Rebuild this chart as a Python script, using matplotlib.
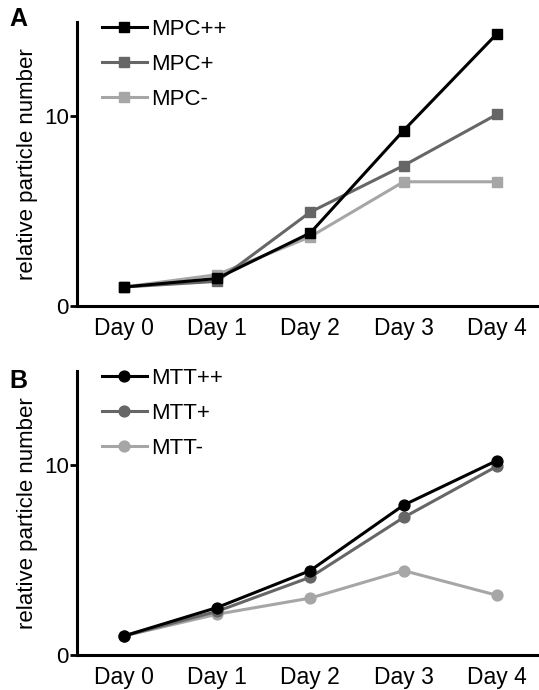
import matplotlib
matplotlib.use("Agg")
import matplotlib.pyplot as plt
from matplotlib.lines import Line2D

plt.rcParams['font.family'] = ['Liberation Sans', 'DejaVu Sans']

days = ["Day 0", "Day 1", "Day 2", "Day 3", "Day 4"]

mpc_pp = [1.0, 1.45, 3.85, 9.25, 14.35]
mpc_p = [1.0, 1.3, 4.95, 7.4, 10.1]
mpc_m = [1.0, 1.65, 3.65, 6.55, 6.55]

mtt_pp = [1.0, 2.5, 4.45, 7.9, 10.25]
mtt_p = [1.0, 2.3, 4.1, 7.25, 9.95]
mtt_m = [1.0, 2.15, 3.0, 4.45, 3.15]

colors = ["#000000", "#666666", "#a6a6a6"]

W, H = 539, 690
fig = plt.figure(figsize=(W / 100, H / 100), dpi=100)

FS = 16

def make_ax(bottom_px, marker, series, labels, letter, letter_y):
    left = 77 / W
    width = 466.5 / W
    height = 284.5 / H
    bottom = 1 - bottom_px / H
    ax = fig.add_axes([left, bottom, width, height])
    x = list(range(len(days)))
    ms = 7.8
    for vals, c, lab in list(zip(series, colors, labels))[::-1]:
        ax.plot(x, vals, color=c, lw=2.2, marker=marker, ms=ms,
                mec=c, mfc=c, label=lab, clip_on=False)
    ax.set_xlim(-0.5, 4.5)
    ax.set_ylim(0, 15)
    ax.set_yticks([0, 10])
    ax.set_xticks(x)
    ax.set_xticklabels(days)
    ax.tick_params(axis='x', length=0, labelsize=16.5, pad=8)
    ax.tick_params(axis='y', length=5, width=2, labelsize=FS, pad=1)
    for s in ['top', 'right']:
        ax.spines[s].set_visible(False)
    for s in ['left', 'bottom']:
        ax.spines[s].set_linewidth(2.2)
    ax.set_ylabel("relative particle number", fontsize=FS, labelpad=4)
    handles = [Line2D([], [], color=c, lw=2.2, marker=marker, ms=ms, mec=c, mfc=c)
               for c in colors]
    ax.legend(handles, labels, loc='upper left', bbox_to_anchor=(0.035, 1.04),
              frameon=False, fontsize=FS, handlelength=2.0, handletextpad=0.22,
              labelspacing=0.62, borderaxespad=0)
    fig.text(9 / W, 1 - letter_y / H, letter, fontsize=18, fontweight='bold',
             va='center', ha='left')
    return ax

make_ax(306, 's', [mpc_pp, mpc_p, mpc_m], ["MPC++", "MPC+", "MPC-"], "A", 19)
make_ax(655, 'o', [mtt_pp, mtt_p, mtt_m], ["MTT++", "MTT+", "MTT-"], "B", 381)

fig.savefig("out.png", dpi=100)
